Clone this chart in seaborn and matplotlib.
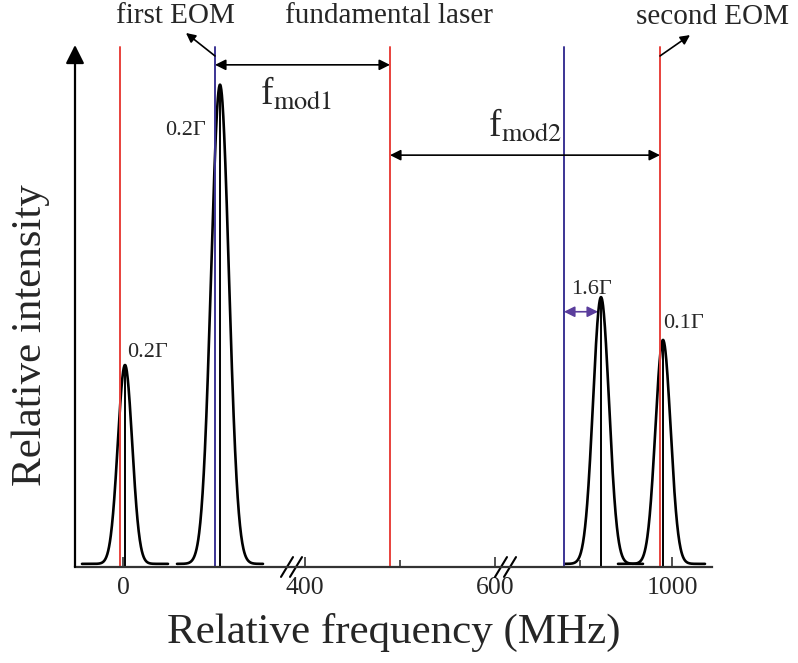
import numpy as np
import pandas as pd
import seaborn as sns
import matplotlib.pyplot as plt

# schematic spectrum (x = position along the broken axis, y = relative intensity)
peak_names = ['p1', 'p2', 'p3', 'p4']
peak_center = [125, 220, 601, 663]
peak_height = [0.381, 0.918, 0.511, 0.429]
peak_sigma = [7.2, 8.9, 8.0, 7.6]
peak_left = [82, 177, 565, 618]
peak_right = [168, 263, 643, 705]
peak_labels = ['0.2Γ', '0.2Γ', '1.6Γ', '0.1Γ']

red_lines = [120, 390, 660]
blue_lines = [215, 564]

tick_pos = [123, 305, 495, 672]
tick_labels = ['0', '400', '600', '1000']
minor_pos = [400, 580]
break_pos = [292, 506]

RED = '#e8413c'
BLUE = '#3b3494'
PURPLE = '#5a3d9c'

sns.set_theme(style='white')
plt.rcParams['font.family'] = ['Liberation Serif', 'DejaVu Serif']
plt.rcParams['mathtext.fontset'] = 'stix'

fig = plt.figure(figsize=(7.98, 6.63), dpi=100)
ax = fig.add_axes([75 / 798, 1 - 567 / 663, (712 - 75) / 798, (567 - 45) / 663])
ax.set_xlim(75, 712)
ax.set_ylim(0, 1)

# peaks
rows = []
for n, c, h, s, l, r in zip(peak_names, peak_center, peak_height, peak_sigma, peak_left, peak_right):
    xs = np.linspace(l, r, 300)
    ys = 0.006 + h * np.exp(-(xs - c) ** 2 / (2 * s ** 2))
    rows.append(pd.DataFrame({'x': xs, 'y': ys, 'peak': n}))
df = pd.concat(rows)
sns.lineplot(data=df, x='x', y='y', hue='peak', palette=['black'] * 4,
             legend=False, lw=1.9, ax=ax, sort=False, estimator=None)
for c, h in zip(peak_center, peak_height):
    ax.plot([c, c], [0, h], color='black', lw=1.4)

# laser / sideband lines
for x in red_lines:
    ax.plot([x, x], [0, 0.996], color=RED, lw=1.4)
for x in blue_lines:
    ax.plot([x, x], [0, 0.996], color=BLUE, lw=1.4)

# spines & ticks
sns.despine(ax=ax, top=True, right=True, left=True)
ax.spines['bottom'].set_linewidth(1.6)
ax.spines['bottom'].set_color('#333333')
ax.set_yticks([])
ax.set_xticks(tick_pos)
ax.set_xticklabels(tick_labels, fontsize=18.5)
ax.set_xticks(minor_pos, minor=True)
ax.tick_params(axis='x', which='major', direction='in', length=7, width=1.2,
               color='#333333', pad=7, bottom=True)
ax.tick_params(axis='x', which='minor', direction='in', length=5, width=1.2,
               color='#333333', bottom=True)
ax.annotate('', xy=(0, 1.0), xytext=(0, 0), xycoords='axes fraction',
            arrowprops=dict(arrowstyle='-|>', color='black', lw=1.6,
                            mutation_scale=28, shrinkA=0, shrinkB=0))

# axis breaks
for b in break_pos:
    for dx in (-5, 4):
        ax.plot([b + dx - 6, b + dx + 6], [-0.019, 0.019], color='black', lw=1.5, clip_on=False)

ax.set_xlabel('Relative frequency (MHz)', fontsize=31, labelpad=10)
ax.set_ylabel('Relative intensity', fontsize=31)
ax.yaxis.set_label_coords(-0.04, 0.444)

# double arrows
dbl = dict(arrowstyle='<|-|>', color='black', lw=1.2, mutation_scale=16, shrinkA=0, shrinkB=0)
ax.annotate('', xy=(390, 0.962), xytext=(215, 0.962), arrowprops=dbl)
ax.annotate('', xy=(660, 0.789), xytext=(390, 0.789), arrowprops=dbl)
ax.annotate('', xy=(598, 0.489), xytext=(564, 0.489),
            arrowprops=dict(dbl, color=PURPLE))
ax.text(296, 0.905, r'f$_{\rm mod1}$', fontsize=27, ha='center', va='center')
ax.text(525, 0.845, r'f$_{\rm mod2}$', fontsize=27, ha='center', va='center')

# width labels
label_xy = [(148, 0.41), (186, 0.837), (591, 0.531), (684, 0.467)]
for (x, y), t in zip(label_xy, peak_labels):
    ax.text(x, y, t, fontsize=16, ha='center', va='center')

# top labels
ax.text(175, 1.056, 'first EOM', fontsize=21, ha='center', va='center', clip_on=False)
ax.text(389, 1.056, 'fundamental laser', fontsize=21, ha='center', va='center', clip_on=False)
ax.text(713, 1.054, 'second EOM', fontsize=21, ha='center', va='center', clip_on=False)
arr = dict(arrowstyle='-|>', color='black', lw=1.2, mutation_scale=14, shrinkA=0, shrinkB=0)
ax.annotate('', xy=(186, 1.023), xytext=(215, 0.979), arrowprops=arr, annotation_clip=False)
ax.annotate('', xy=(690, 1.019), xytext=(660, 0.979), arrowprops=arr, annotation_clip=False)

fig.savefig('out.png', dpi=100)
